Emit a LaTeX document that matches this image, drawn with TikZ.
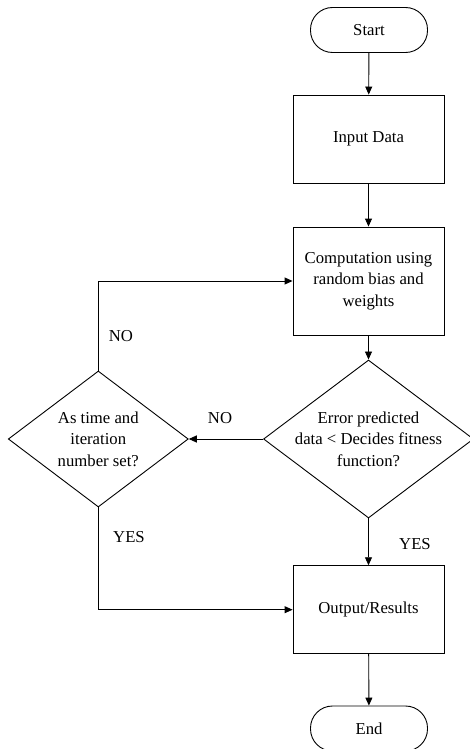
\documentclass[tikz,border=0pt]{standalone}
\usepackage{fontspec}
\setmainfont{Liberation Serif}
\usepackage{tikz}
\usetikzlibrary{shapes.geometric,arrows.meta}

\begin{document}
\begin{tikzpicture}[x=1pt,y=-1pt,line width=0.9pt,>={Triangle[length=8pt,width=7pt]},
  every node/.style={font=\fontsize{16.7}{21.5}\selectfont},
  terminal/.style={draw,rectangle,rounded corners=22pt,minimum width=117pt,minimum height=45pt},
  process/.style={draw,rectangle,minimum width=151pt,minimum height=88pt,align=center},
  decision/.style={draw,diamond,inner sep=0pt},
  answer/.style={inner sep=0pt}]
\useasboundingbox (0,0) rectangle (470,749);

% Start and input
\node[terminal] (start) at (369,30) {Start};
\node[process] (input) at (368.5,139) {Input Data};
\draw[->] (start) -- (input);

% Computation
\node[process,minimum height=108pt] (comp) at (368.5,281) {Computation using\\random bias and\\weights};
\draw[->] (input) -- (comp);

% Error check
\node[decision,minimum width=210pt,minimum height=158pt,
  label={[align=center]center:Error predicted\\data < Decides fitness\\function?}] (err) at (368.5,439) {};
\draw[->] (comp) -- (err);

% Time and iteration check
\node[decision,minimum width=180pt,minimum height=136pt,
  label={[align=center]center:As time and\\iteration\\number set?}] (iter) at (98.3,439) {};
\draw[->] (err.west) -- (iter.east);
\node[answer] (errno) at (220,418) {NO};
\draw[->] (iter.north) |- (comp.west);
\node[answer] (iterno) at (121,336) {NO};

% Output and end
\node[process] (out) at (368.5,609.7) {Output/Results};
\draw[->] (err.south) -- (out.north);
\node[answer] (erryes) at (415,544) {YES};
\draw[->] (iter.south) |- (out.west);
\node[answer] (iteryes) at (129,537) {YES};
\node[terminal] (end) at (369,728.5) {End};
\draw[->] (out) -- (end);
\end{tikzpicture}
\end{document}
